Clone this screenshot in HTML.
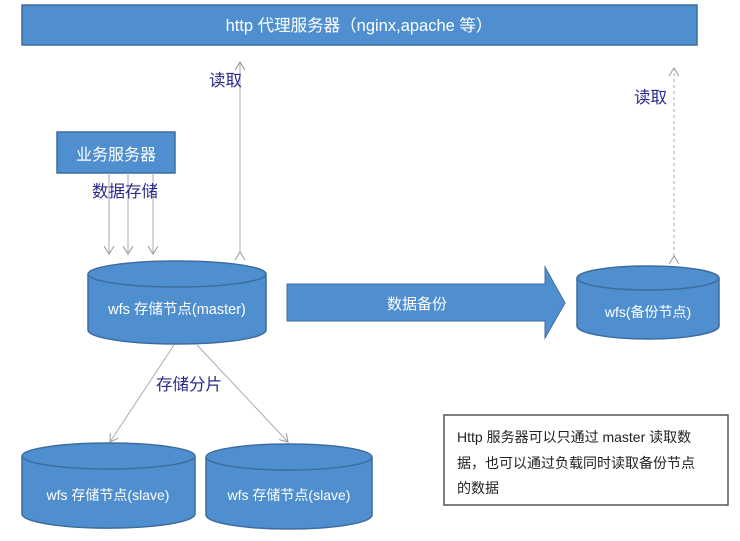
<!DOCTYPE html>
<html><head><meta charset="utf-8"><style>
html,body{margin:0;padding:0;background:#fff;}
svg{display:block;}
text{font-family:"Liberation Sans","Noto Sans CJK SC",sans-serif;}
</style></head><body>
<svg width="740" height="541" viewBox="0 0 740 541" xmlns="http://www.w3.org/2000/svg">
<defs>
<marker id="ah" markerWidth="10" markerHeight="10" refX="8" refY="5" orient="auto" markerUnits="userSpaceOnUse">
<path d="M0,0 L8,5 L0,10" fill="none" stroke="#999" stroke-width="1"/>
</marker>
</defs>
<rect x="22" y="5" width="675" height="40" fill="#4f8fd0" stroke="#3d6d9e" stroke-width="1.5"/>
<text x="359" y="31" font-size="16.5" fill="#fff" text-anchor="middle">http 代理服务器（nginx,apache 等）</text>
<rect x="57" y="132" width="118" height="41" fill="#4f8fd0" stroke="#3d6d9e" stroke-width="1.5"/>
<text x="116" y="160" font-size="16" fill="#fff" text-anchor="middle">业务服务器</text>
<g stroke="#aab" stroke-width="1" fill="none">
<line x1="109" y1="173" x2="109" y2="254" marker-end="url(#ah)"/>
<line x1="128" y1="173" x2="128" y2="254" marker-end="url(#ah)"/>
<line x1="153" y1="173" x2="153" y2="254" marker-end="url(#ah)"/>
<line x1="240" y1="252" x2="240" y2="62" marker-end="url(#ah)" marker-start="url(#ah)"/>
<line x1="674" y1="256" x2="674" y2="68" stroke-dasharray="3,3" marker-end="url(#ah)" marker-start="url(#ah)"/>
<line x1="174" y1="345" x2="110" y2="442" marker-end="url(#ah)"/>
<line x1="197" y1="345" x2="288" y2="442" marker-end="url(#ah)"/>
</g>
<text x="92" y="197" font-size="16.5" fill="#2b2b8c">数据存储</text>
<text x="209" y="86" font-size="16.5" fill="#2b2b8c">读取</text>
<text x="634" y="103" font-size="16.5" fill="#2b2b8c">读取</text>
<text x="156" y="390" font-size="16.5" fill="#2b2b8c">存储分片</text>
<g fill="#4f8fd0" stroke="#3d6d9e" stroke-width="1.5">
<path d="M88,274 L88,330 A89,14 0 0 0 266,330 L266,274"/>
<ellipse cx="177" cy="274" rx="89" ry="13"/>
</g>
<text x="177" y="314" font-size="14.5" fill="#fff" text-anchor="middle">wfs 存储节点(master)</text>
<path d="M287,284 L545,284 L545,267 L565,303 L545,338 L545,321 L287,321 Z" fill="#4f8fd0" stroke="#3d6d9e" stroke-width="1"/>
<text x="417" y="309" font-size="15" fill="#fff" text-anchor="middle">数据备份</text>
<g fill="#4f8fd0" stroke="#3d6d9e" stroke-width="1.5">
<path d="M577,278 L577,326 A71,13 0 0 0 719,326 L719,278"/>
<ellipse cx="648" cy="278" rx="71" ry="12"/>
</g>
<text x="648" y="317" font-size="14" fill="#fff" text-anchor="middle">wfs(备份节点)</text>
<g fill="#4f8fd0" stroke="#3d6d9e" stroke-width="1.5">
<path d="M22,456 L22,514 A86,14 0 0 0 195,514 L195,456"/>
<ellipse cx="108.5" cy="456" rx="86.5" ry="13"/>
<path d="M206,457 L206,515 A83,14 0 0 0 372,515 L372,457"/>
<ellipse cx="289" cy="457" rx="83" ry="13"/>
</g>
<text x="108" y="500" font-size="14" fill="#fff" text-anchor="middle">wfs 存储节点(slave)</text>
<text x="289" y="500" font-size="14" fill="#fff" text-anchor="middle">wfs 存储节点(slave)</text>
<rect x="444" y="415" width="284" height="90" fill="#fff" stroke="#555" stroke-width="1.5"/>
<text x="457" y="442" font-size="14" fill="#222">Http 服务器可以只通过 master 读取数</text>
<text x="457" y="468" font-size="14" fill="#222">据，也可以通过负载同时读取备份节点</text>
<text x="457" y="493" font-size="14" fill="#222">的数据</text>
</svg>
</body></html>
